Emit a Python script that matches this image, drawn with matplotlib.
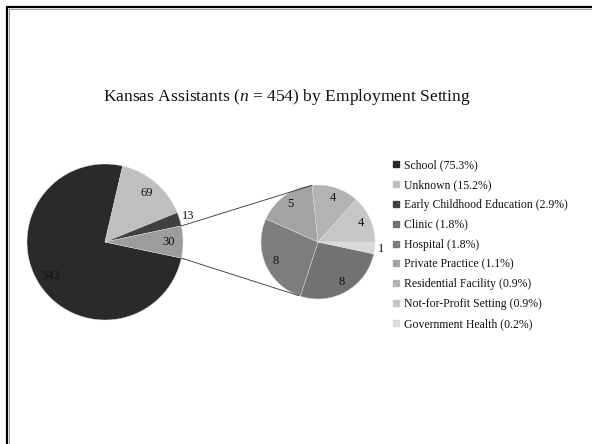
import matplotlib
matplotlib.use('Agg')
import matplotlib.pyplot as plt
import numpy as np
from matplotlib.lines import Line2D

# ---- data ----
main_labels = ['School', 'Unknown', 'Early Childhood Education']
main_values = [342, 69, 13]
sub_labels = ['Clinic', 'Hospital', 'Private Practice', 'Residential Facility',
              'Not-for-Profit Setting', 'Government Health']
sub_values = [8, 8, 5, 4, 4, 1]
main_colors = ['#2a2a2a', '#bfbfbf', '#404040']
other_color = '#9c9c9c'
sub_colors = ['#727272', '#7d7d7d', '#a3a3a3', '#b3b3b3', '#c6c6c6', '#dadada']
title_text = r'Kansas Assistants ($\mathit{n}$ = 454) by Employment Setting'

plt.rcParams['font.family'] = ['Liberation Serif', 'DejaVu Serif']
plt.rcParams['mathtext.fontset'] = 'custom'
plt.rcParams['mathtext.rm'] = 'Liberation Serif'
plt.rcParams['mathtext.it'] = 'Liberation Serif:italic'

W, H = 592, 444
fig = plt.figure(figsize=(W / 100, H / 100), dpi=100)
ax = fig.add_axes([0, 0, 1, 1])

total = sum(main_values) + sum(sub_values)
other_total = sum(sub_values)
other_angle = 360.0 * other_total / total

# main pie
c1 = (105, H - 242)
r1 = 78
vals1 = main_values + [other_total]
cols1 = main_colors + [other_color]
w1, _ = ax.pie(vals1, colors=cols1, startangle=-other_angle / 2, counterclock=False,
               center=c1, radius=r1, frame=True,
               wedgeprops=dict(edgecolor='#e0e0e0', linewidth=0.3))

# sub pie
c2 = (318, H - 242)
r2 = 57
sub_start = -360.0 * sub_values[-1] / other_total
w2, _ = ax.pie(sub_values, colors=sub_colors, startangle=sub_start, counterclock=False,
               center=c2, radius=r2, frame=True,
               wedgeprops=dict(edgecolor='#e0e0e0', linewidth=0.3))


def put_labels(wedges, values, center, radius, tot):
    for w, v in zip(wedges, values):
        mid = np.deg2rad((w.theta1 + w.theta2) / 2)
        d = 0.82 if v / tot > 0.05 else 1.12
        ax.text(center[0] + d * radius * np.cos(mid), center[1] + d * radius * np.sin(mid),
                str(v), ha='center', va='center', fontsize=9, color='#111111')


put_labels(w1, vals1, c1, r1, total)
put_labels(w2, sub_values, c2, r2, other_total)

# connector lines
a_top = np.deg2rad(other_angle / 2)
a_bot = np.deg2rad(-other_angle / 2)
b_top = np.deg2rad(96)
b_bot = np.deg2rad(-110)
ax.plot([c1[0] + r1 * np.cos(a_top), c2[0] + r2 * np.cos(b_top)],
        [c1[1] + r1 * np.sin(a_top), c2[1] + r2 * np.sin(b_top)], color='#333333', lw=0.6)
ax.plot([c1[0] + r1 * np.cos(a_bot), c2[0] + r2 * np.cos(b_bot)],
        [c1[1] + r1 * np.sin(a_bot), c2[1] + r2 * np.sin(b_bot)], color='#333333', lw=0.6)

# frame
ax.plot([7, 7], [H - 7, -5], color='black', lw=1.6, solid_capstyle='butt')
ax.plot([8.8, 8.8], [H - 8.8, -5], color='#a0a0a0', lw=0.8, solid_capstyle='butt')
ax.plot([6.2, W + 5], [H - 7, H - 7], color='black', lw=1.6, solid_capstyle='butt')
ax.plot([8.4, W + 5], [H - 8.8, H - 8.8], color='#a0a0a0', lw=0.8, solid_capstyle='butt')

ax.set_xlim(0, W)
ax.set_ylim(0, H)
ax.set_aspect('auto')
ax.axis('off')

# title
ax.text(287, H - 97, title_text, ha='center', va='center', fontsize=12.6, color='#111111')

# legend
all_labels = main_labels + sub_labels
all_values = main_values + sub_values
all_colors = main_colors + sub_colors
handles = [Line2D([], [], marker='s', ls='', color=c, markersize=3.8) for c in all_colors]
labels = [f'{l} ({100 * v / total:.1f}%)' for l, v in zip(all_labels, all_values)]
fig.legend(handles, labels, loc='upper left', bbox_to_anchor=(393 / W, 1 - 159 / H),
           frameon=False, fontsize=8.5, handlelength=0.45, handletextpad=0.49,
           labelspacing=0.67, borderpad=0, borderaxespad=0, labelcolor='#111111')

fig.savefig('out.png', dpi=100, facecolor='white')
